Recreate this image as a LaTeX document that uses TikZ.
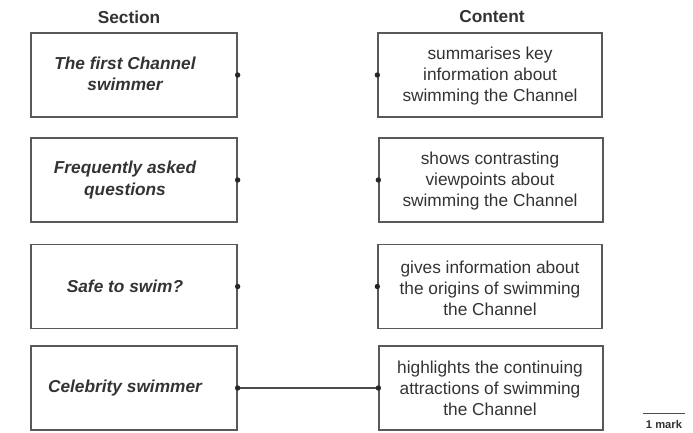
\documentclass[tikz,border=0pt]{standalone}
\usepackage{fontspec}
\setmainfont{Liberation Sans}
\begin{document}
\begin{tikzpicture}[x=1pt,y=-1pt,
  boxline/.style={draw=black!65, line width=1.3pt},
  secbox/.style={boxline, rectangle, minimum width=206pt, minimum height=84pt, inner sep=0pt},
  conbox/.style={boxline, rectangle, minimum width=224pt, minimum height=84pt, inner sep=0pt},
  txt/.style={text=black!80, align=center, inner sep=0pt, font=\fontsize{17.3}{21}\selectfont},
  sectxt/.style={txt, font=\fontsize{17.3}{21.5}\selectfont\bfseries\itshape},
  head/.style={text=black!80, inner sep=0pt, font=\fontsize{17.3}{21}\selectfont\bfseries},
  dot/.style={fill=black!85},
  conn/.style={draw=black!70, line width=1.1pt}]
\useasboundingbox (0,0) rectangle (693,432);
% headings
\node[head] (hs) at (129,17) {Section};
\node[head] (hc) at (492,17) {Content};
% section boxes
\node[secbox] (s1) at (134,75) {};
\node[secbox] (s2) at (134,180) {};
\node[secbox] (s3) at (134,286.5) {};
\node[secbox] (s4) at (134,388) {};
\node[sectxt] (st1) at (125,74) {The first Channel\\swimmer};
\node[sectxt] (st2) at (125,180) {Frequently asked\\questions};
\node[sectxt] (st3) at (125,286) {Safe to swim?};
\node[sectxt] (st4) at (125,388) {Celebrity swimmer};
% content boxes
\node[conbox] (c1) at (490,75) {};
\node[conbox] (c2) at (491,180) {};
\node[conbox] (c3) at (490,286.5) {};
\node[conbox] (c4) at (491,388) {};
\node[txt] (ct1) at (490,76) {summarises key\\information about\\swimming the Channel};
\node[txt] (ct2) at (490,181) {shows contrasting\\viewpoints about\\swimming the Channel};
\node[txt] (ct3) at (490,288) {gives information about\\the origins of swimming\\the Channel};
\node[txt] (ct4) at (490,388) {highlights the continuing\\attractions of swimming\\the Channel};
% connector
\draw[conn] (s4.east) -- (c4.west);
% dots
\foreach \n in {s1,s2,s3,s4}{\fill[dot] (\n.east) circle (2.7pt);}
\foreach \n in {c1,c2,c3,c4}{\fill[dot] (\n.west) circle (2.7pt);}
% mark
\coordinate (m1) at (643,413);
\coordinate (m2) at (685,413);
\draw[draw=black!70, line width=0.9pt] (m1) -- (m2);
\node[text=black!80, inner sep=0pt, font=\fontsize{11.2}{13}\selectfont\bfseries] (mark) at (664,424) {1 mark};
\end{tikzpicture}
\end{document}
